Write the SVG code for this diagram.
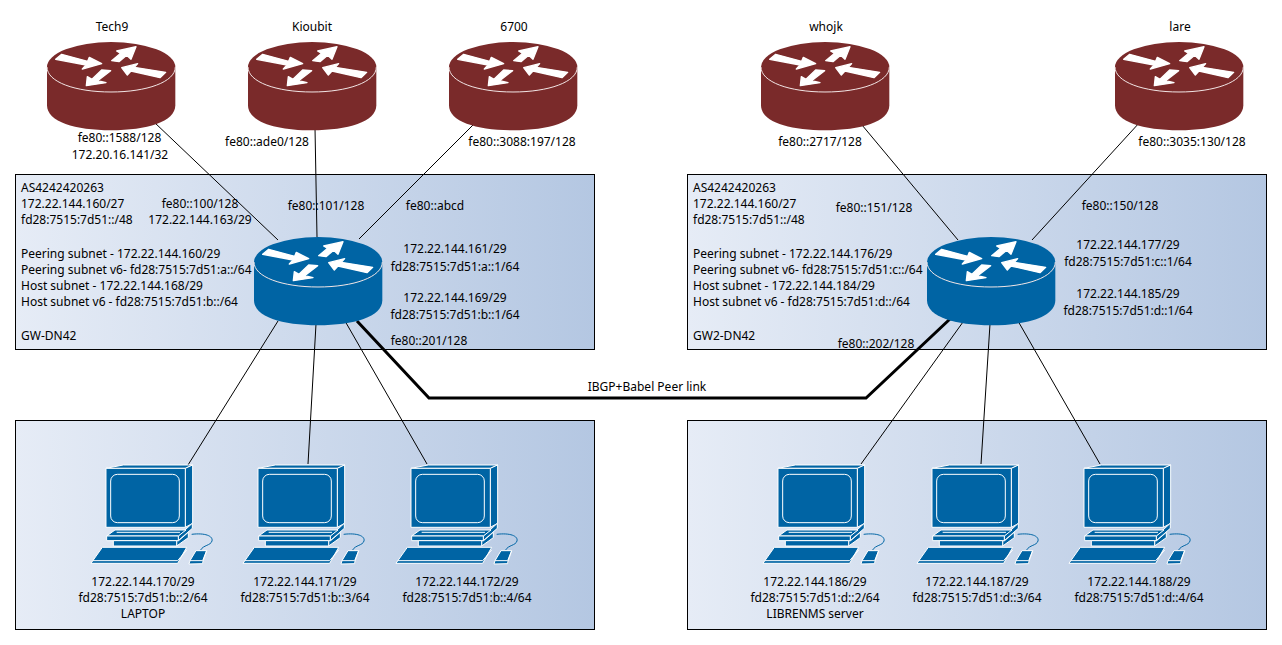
<svg xmlns="http://www.w3.org/2000/svg" xmlns:xlink="http://www.w3.org/1999/xlink" width="1282" height="645" viewBox="0 0 1282 645">
<style>
text{font-family:"Noto Sans","Open Sans",sans-serif;font-size:12px;fill:#000}
.m{text-anchor:middle}
.box{fill:url(#bg);stroke:#000;stroke-width:1}
.ln{fill:none;stroke:#000;stroke-width:1}
.thick{fill:none;stroke:#000;stroke-width:3}
.red{color:#7a2a2a}
.blue{color:#0064a4}
</style>
<defs>
<linearGradient id="bg" x1="0" y1="0" x2="1" y2="0"><stop offset="0" stop-color="#e6ecf6"/><stop offset="1" stop-color="#b4c7e2"/></linearGradient>
<g id="router" transform="scale(0.3333)">
<path d="M0 75V190C0 240 85 265 192 265S385 240 385 190V75Z" fill="currentColor"/>
<ellipse cx="192.500" cy="75" rx="192.500" ry="75" fill="currentColor"/>
<path d="M0 75C0 120 85 150 192 150S385 120 385 75" fill="none" stroke="#f2e6e6" stroke-width="3"/>
<g fill="#fff" stroke="#fff" stroke-width="4" stroke-linejoin="round">
<polygon points="26,52 44,37 122,58 127,46 164,65 106,81 117,69"/>
<polygon points="194,56 221,34 209,27 267,14 252,52 239,40 216,59"/>
<polygon points="224,77 272,65 262,76 356,91 339,107 252,87 241,99"/>
<polygon points="118,131 121,104 135,112 164,84 191,86 152,116 177,122"/>
</g>
</g>
<g id="pc" transform="scale(0.3333)" stroke="#fff" stroke-width="3" stroke-linejoin="round">
<path d="M78 40L130 30H338L316 40Z" fill="#0064a4"/>
<path d="M316 40L338 30V205L316 217Z" fill="#0064a4"/>
<rect x="78" y="40" width="238" height="177" fill="#0064a4"/>
<rect x="92" y="58" width="206" height="145" rx="20" fill="none"/>
<path d="M295 243L337 205V220L295 257Z" fill="#0064a4"/>
<path d="M290 257H296L325 232V248L290 273Z" fill="#0064a4"/>
<path d="M80 243L105 225H318L295 243Z" fill="#0064a4"/>
<path d="M110 232H300" fill="none"/>
<rect x="80" y="243" width="215" height="14" fill="#0064a4"/>
<rect x="100" y="257" width="190" height="16" fill="#0064a4"/>
<path d="M33 325L67 277H320L293 325Z" fill="#0064a4"/>
<path d="M38 317H293L320 285" fill="none"/>
<path d="M335 238C375 233 400 243 396 258C392 272 370 270 362 285" fill="none" stroke="#0064a4" stroke-width="3"/>
<path d="M348 287H380L368 322V326L327 327L330 317Z" fill="#0064a4"/>
<path d="M330 317H368L380 287" fill="none"/>
</g>
</defs>

<g id="subnets">
<rect id="box-gw" class="box" x="15.500" y="174.500" width="579" height="175"/>
<rect id="box-gw2" class="box" x="687.500" y="174.500" width="579" height="175"/>
<rect id="box-hosts" class="box" x="15.500" y="420.500" width="579" height="209"/>
<rect id="box-hosts2" class="box" x="687.500" y="420.500" width="579" height="209"/>
</g>

<g id="connectors">
<path class="ln" d="M154 122L278 240"/>
<path class="ln" d="M315 128L317 237"/>
<path class="ln" d="M473 125L359 239"/>
<path class="ln" d="M862 125L958 240"/>
<path class="ln" d="M1140 122L1032 240"/>
<path class="ln" d="M278 321L188 465"/>
<path class="ln" d="M316 324L308 464"/>
<path class="ln" d="M345 321L427 464"/>
<path class="ln" d="M963 322L861 464"/>
<path class="ln" d="M990 324L981 464"/>
<path class="ln" d="M1018 321L1100 464"/>
<path class="thick" d="M357 321L429 398H866L950 319"/>
</g>

<g id="node-tech9" class="red"><use xlink:href="#router" transform="translate(47,42)"/><text class="m" x="112" y="31">Tech9</text></g>
<g id="node-kioubit" class="red"><use xlink:href="#router" transform="translate(248,42)"/><text class="m" x="312" y="31">Kioubit</text></g>
<g id="node-6700" class="red"><use xlink:href="#router" transform="translate(449,42)"/><text class="m" x="514" y="31">6700</text></g>
<g id="node-whojk" class="red"><use xlink:href="#router" transform="translate(761,42)"/><text class="m" x="826" y="31">whojk</text></g>
<g id="node-lare" class="red"><use xlink:href="#router" transform="translate(1115,42)"/><text class="m" x="1180" y="31">lare</text></g>
<g id="node-gw" class="blue"><use xlink:href="#router" transform="translate(254,237)"/></g>
<g id="node-gw2" class="blue"><use xlink:href="#router" transform="translate(927,237)"/></g>

<g id="node-pc1"><use xlink:href="#pc" transform="translate(80,455)"/><text class="m" x="143" y="586">172.22.144.170/29</text><text class="m" x="143" y="602">fd28:7515:7d51:b::2/64</text><text class="m" x="143" y="618">LAPTOP</text></g>
<g id="node-pc2"><use xlink:href="#pc" transform="translate(232,455)"/><text class="m" x="305" y="586">172.22.144.171/29</text><text class="m" x="305" y="602">fd28:7515:7d51:b::3/64</text></g>
<g id="node-pc3"><use xlink:href="#pc" transform="translate(385,455)"/><text class="m" x="467" y="586">172.22.144.172/29</text><text class="m" x="467" y="602">fd28:7515:7d51:b::4/64</text></g>
<g id="node-pc4"><use xlink:href="#pc" transform="translate(752,455)"/><text class="m" x="815" y="586">172.22.144.186/29</text><text class="m" x="815" y="602">fd28:7515:7d51:d::2/64</text><text class="m" x="815" y="618">LIBRENMS server</text></g>
<g id="node-pc5"><use xlink:href="#pc" transform="translate(906,455)"/><text class="m" x="977" y="586">172.22.144.187/29</text><text class="m" x="977" y="602">fd28:7515:7d51:d::3/64</text></g>
<g id="node-pc6"><use xlink:href="#pc" transform="translate(1058,455)"/><text class="m" x="1139" y="586">172.22.144.188/29</text><text class="m" x="1139" y="602">fd28:7515:7d51:d::4/64</text></g>

<g id="labels">
<text class="m" x="119.500" y="142">fe80::1588/128</text>
<text class="m" x="120" y="159">172.20.16.141/32</text>
<text class="m" x="267" y="146">fe80::ade0/128</text>
<text class="m" x="522" y="146">fe80::3088:197/128</text>
<text class="m" x="820" y="146">fe80::2717/128</text>
<text class="m" x="1192" y="146">fe80::3035:130/128</text>

<text x="21" y="192">AS4242420263</text>
<text x="21" y="208">172.22.144.160/27</text>
<text x="21" y="224">fd28:7515:7d51::/48</text>
<text x="21" y="258">Peering subnet - 172.22.144.160/29</text>
<text x="21" y="274">Peering subnet v6- fd28:7515:7d51:a::/64</text>
<text x="21" y="290">Host subnet - 172.22.144.168/29</text>
<text x="21" y="306">Host subnet v6 - fd28:7515:7d51:b::/64</text>
<text x="21" y="340">GW-DN42</text>
<text class="m" x="200" y="208">fe80::100/128</text>
<text class="m" x="200" y="224">172.22.144.163/29</text>
<text class="m" x="326" y="210">fe80::101/128</text>
<text class="m" x="435" y="210">fe80::abcd</text>
<text class="m" x="455" y="253">172.22.144.161/29</text>
<text class="m" x="455" y="271">fd28:7515:7d51:a::1/64</text>
<text class="m" x="455" y="302">172.22.144.169/29</text>
<text class="m" x="455" y="319">fd28:7515:7d51:b::1/64</text>
<text class="m" x="429" y="345">fe80::201/128</text>

<text x="693" y="192">AS4242420263</text>
<text x="693" y="208">172.22.144.160/27</text>
<text x="693" y="224">fd28:7515:7d51::/48</text>
<text x="693" y="258">Peering subnet - 172.22.144.176/29</text>
<text x="693" y="274">Peering subnet v6- fd28:7515:7d51:c::/64</text>
<text x="693" y="290">Host subnet - 172.22.144.184/29</text>
<text x="693" y="306">Host subnet v6 - fd28:7515:7d51:d::/64</text>
<text x="693" y="340">GW2-DN42</text>
<text class="m" x="874" y="212">fe80::151/128</text>
<text class="m" x="1120" y="210">fe80::150/128</text>
<text class="m" x="1128" y="249">172.22.144.177/29</text>
<text class="m" x="1128" y="266">fd28:7515:7d51:c::1/64</text>
<text class="m" x="1128" y="298">172.22.144.185/29</text>
<text class="m" x="1128" y="315">fd28:7515:7d51:d::1/64</text>
<text class="m" x="876" y="348">fe80::202/128</text>
<text class="m" x="647" y="391">IBGP+Babel Peer link</text>
</g>
</svg>
